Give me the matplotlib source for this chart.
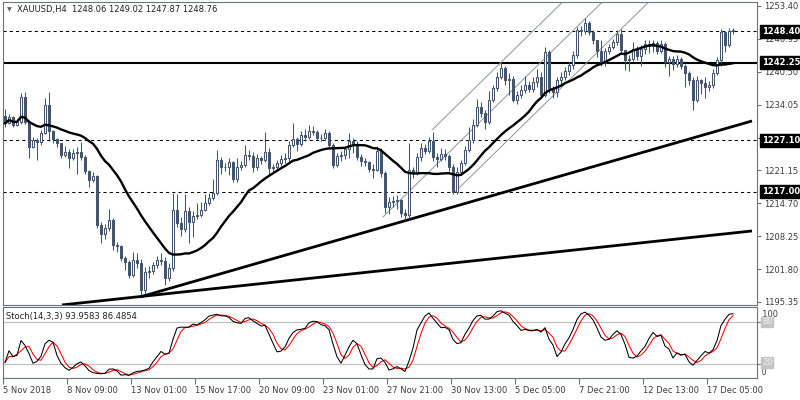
import numpy as np
import pandas as pd
import matplotlib
matplotlib.use("Agg")
import matplotlib.pyplot as plt
from matplotlib.transforms import blended_transform_factory

# XAUUSD H4 candles (open = previous close)
first_open = 1231.8

closes = [
    1230.4, 1231.6, 1230.1, 1230.6, 1235.6, 1230.7, 1225.8, 1227.1, 1226.7, 1228.5,
    1234.0, 1228.8, 1227.3, 1226.5, 1224.2, 1224.8, 1223.6, 1224.6, 1224.8, 1223.8,
    1221.0, 1219.3, 1220.0, 1210.5, 1208.6, 1209.8, 1211.4, 1206.5, 1206.3, 1204.0,
    1203.2, 1200.7, 1203.6, 1203.0, 1197.7, 1201.2, 1201.5, 1202.6, 1203.6, 1203.3,
    1200.0, 1202.0, 1213.4, 1210.8, 1209.6, 1213.2, 1211.0, 1212.2, 1212.5, 1213.4,
    1214.8, 1215.7, 1216.7, 1223.2, 1221.8, 1221.9, 1222.8, 1219.4, 1221.9, 1222.3,
    1224.2, 1224.0, 1221.8, 1223.6, 1223.2, 1224.8, 1221.6, 1221.8, 1222.6, 1223.4,
    1223.6, 1226.2, 1227.4, 1226.3, 1228.0, 1227.8, 1228.8, 1228.7, 1227.6, 1227.5,
    1228.4, 1226.2, 1222.3, 1223.9, 1224.2, 1225.3, 1226.9, 1226.4, 1223.8, 1223.0,
    1222.8, 1221.4, 1221.2, 1225.0, 1220.7, 1214.0, 1215.0, 1215.2, 1215.4, 1212.8,
    1212.4, 1221.2, 1220.6, 1223.8, 1225.5, 1225.0, 1227.0, 1223.8, 1223.4, 1224.3,
    1224.0, 1221.8, 1217.0, 1220.9, 1222.6, 1225.2, 1227.1, 1230.1, 1233.6, 1232.4,
    1230.7, 1235.0, 1237.3, 1239.5, 1241.2, 1238.9, 1239.1, 1235.0, 1236.0, 1237.0,
    1237.9, 1237.2, 1238.4, 1239.5, 1236.0, 1244.4, 1237.4, 1236.6, 1238.9, 1239.5,
    1240.6, 1241.8, 1243.8, 1248.6, 1248.4, 1250.0, 1248.3, 1246.7, 1244.6, 1242.2,
    1244.6, 1245.4, 1246.4, 1248.0, 1244.8, 1242.8, 1243.0, 1245.0, 1243.6, 1245.0,
    1246.0, 1245.6, 1246.2, 1244.6, 1246.0, 1242.4, 1243.0, 1242.0, 1243.0, 1241.6,
    1240.2, 1238.9, 1235.0, 1238.9, 1238.2, 1237.6, 1237.9, 1240.2, 1242.8, 1248.3,
    1245.8, 1248.4, 1248.76,
]

highs = [
    1233.2, 1232.3, 1231.9, 1231.2, 1236.4, 1236.6, 1231.0, 1227.8, 1227.6, 1229.0,
    1235.3, 1236.5, 1229.0, 1227.6, 1226.6, 1225.9, 1225.4, 1225.3, 1225.8, 1226.7,
    1224.1, 1221.3, 1220.8, 1220.3, 1211.0, 1210.6, 1213.6, 1211.8, 1207.2, 1206.6,
    1204.4, 1203.6, 1205.2, 1205.0, 1203.8, 1202.3, 1202.5, 1203.2, 1204.4, 1205.0,
    1204.2, 1203.0, 1216.7, 1216.5, 1212.0, 1216.5, 1214.0, 1213.2, 1214.8, 1215.0,
    1216.6, 1216.8, 1219.5, 1225.2, 1223.8, 1222.6, 1223.6, 1223.0, 1223.6, 1223.0,
    1226.2, 1225.2, 1224.8, 1224.3, 1224.0, 1228.7, 1225.6, 1222.5, 1223.2, 1224.2,
    1224.5, 1227.0, 1230.4, 1227.8, 1228.8, 1229.2, 1230.0, 1229.8, 1229.0, 1228.3,
    1229.2, 1228.8, 1226.6, 1224.6, 1225.0, 1226.0, 1228.5, 1227.6, 1227.0, 1224.4,
    1223.6, 1223.0, 1222.4, 1226.0, 1225.6, 1221.0, 1216.0, 1216.2, 1216.4, 1215.6,
    1213.6, 1226.5, 1221.8, 1224.6, 1226.5, 1226.4, 1227.8, 1228.7, 1224.5, 1225.6,
    1225.4, 1224.4, 1222.4, 1221.8, 1223.2, 1226.0, 1229.6, 1231.2, 1235.2, 1234.5,
    1233.0, 1236.8, 1238.0, 1240.4, 1242.4, 1241.6, 1240.2, 1239.6, 1236.8, 1238.0,
    1239.6, 1238.6, 1239.5, 1241.0, 1240.4, 1245.4, 1244.8, 1237.8, 1239.5, 1240.5,
    1241.4, 1242.4, 1244.6, 1249.2, 1249.4, 1251.0, 1250.4, 1248.6, 1246.4, 1246.8,
    1245.2, 1246.0, 1247.0, 1248.6, 1248.8, 1244.0, 1243.8, 1246.4, 1245.6, 1245.8,
    1246.8, 1246.8, 1246.8, 1246.6, 1246.8, 1246.4, 1243.6, 1243.6, 1243.8, 1243.4,
    1242.0, 1240.6, 1239.4, 1239.6, 1239.0, 1239.4, 1238.6, 1241.0, 1243.4, 1248.9,
    1247.0, 1249.0, 1249.02,
]

lows = [
    1229.6, 1230.2, 1229.6, 1229.8, 1230.2, 1230.2, 1223.5, 1225.5, 1223.2, 1226.2,
    1228.2, 1227.0, 1226.6, 1225.8, 1223.6, 1223.8, 1221.6, 1223.2, 1220.4, 1223.2,
    1220.4, 1217.9, 1218.8, 1209.8, 1206.9, 1207.8, 1209.3, 1205.6, 1205.2, 1203.3,
    1201.7, 1200.0, 1200.2, 1202.0, 1196.8, 1197.2, 1200.0, 1200.8, 1202.0, 1202.6,
    1198.6, 1199.5, 1201.5, 1210.0, 1208.2, 1209.0, 1207.0, 1208.0, 1211.6, 1212.0,
    1213.2, 1214.4, 1215.4, 1216.4, 1220.4, 1221.0, 1220.3, 1218.8, 1218.8, 1221.3,
    1221.9, 1223.2, 1220.8, 1221.2, 1222.4, 1222.8, 1220.0, 1220.8, 1221.0, 1221.6,
    1222.6, 1223.0, 1225.8, 1225.0, 1226.0, 1227.0, 1227.4, 1228.0, 1227.2, 1227.0,
    1227.2, 1225.8, 1221.6, 1221.8, 1223.0, 1223.4, 1223.6, 1224.6, 1223.2, 1222.0,
    1222.0, 1220.8, 1219.6, 1221.0, 1219.8, 1212.8, 1212.6, 1214.0, 1213.5, 1212.0,
    1211.4, 1211.6, 1219.6, 1220.2, 1223.0, 1224.4, 1224.6, 1223.0, 1221.8, 1223.0,
    1223.2, 1221.0, 1216.6, 1216.6, 1220.2, 1222.2, 1224.8, 1226.6, 1229.6, 1231.6,
    1229.2, 1230.2, 1234.6, 1236.8, 1239.0, 1238.0, 1236.0, 1234.5, 1234.2, 1235.4,
    1236.4, 1236.6, 1236.6, 1237.6, 1235.3, 1235.6, 1236.4, 1235.4, 1235.6, 1238.0,
    1238.8, 1239.8, 1241.0, 1243.2, 1247.6, 1248.0, 1247.8, 1246.0, 1243.4, 1241.6,
    1241.6, 1244.0, 1245.0, 1245.8, 1244.0, 1240.8, 1240.6, 1242.6, 1242.8, 1241.6,
    1244.0, 1244.2, 1244.4, 1244.0, 1244.2, 1241.4, 1239.6, 1240.8, 1241.4, 1241.0,
    1237.6, 1238.0, 1233.0, 1234.6, 1236.2, 1235.4, 1236.8, 1237.4, 1239.8, 1241.6,
    1244.4, 1245.4, 1247.87,
]

# horizontal levels
dashed_levels = [1248.40, 1227.10, 1217.00]
solid_level = 1242.25
box_levels = [1248.40, 1242.25, 1227.10, 1217.00]

# trend lines: (bar, price) anchors
trend_lines = [
    [(14.25, 1194.77), (186.75, 1209.28)],
    [(33.75, 1196.34), (186.75, 1230.85)],
]
# equidistant channel: start anchors and slope (price per bar)
channel_starts = [(94.5, 1212.03), (106.75, 1229.08), (112.5, 1216.93)]
channel_slope = 0.769

price_ticks = [1253.40, 1246.95, 1240.50, 1234.05, 1227.60,
               1221.15, 1214.70, 1208.25, 1201.80, 1195.35]
hidden_ticks = [1227.60]  # sits under the 1227.10 label box
date_bars = [0, 16, 32, 48, 64, 80, 96, 112, 128, 144, 160, 176]
date_labels = ["5 Nov 2018", "8 Nov 09:00", "13 Nov 01:00", "15 Nov 17:00",
               "20 Nov 09:00", "23 Nov 01:00", "27 Nov 21:00", "30 Nov 13:00",
               "5 Dec 05:00", "7 Dec 21:00", "12 Dec 13:00", "17 Dec 05:00"]

title_text = "XAUUSD,H4  1248.06 1249.02 1247.87 1248.76"
stoch_text = "Stoch(14,3,3) 93.9583 86.4854"

CANDLE = "#44546a"
SPINE = "#6b737b"
LABEL = "#3c3c3c"
FONT = "DejaVu Sans"
FS = 6.0

plt.rcParams["font.family"] = [FONT]

c = np.array(closes)
o = np.array([first_open] + closes[:-1])
h = np.maximum(np.array(highs), np.maximum(o, c))
l = np.minimum(np.array(lows), np.minimum(o, c))
n = len(c)
x = np.arange(n)

df = pd.DataFrame({"o": o, "h": h, "l": l, "c": c})
ma = df["c"].rolling(20, min_periods=1).mean()
ll = df["l"].rolling(14, min_periods=1).min()
hh = df["h"].rolling(14, min_periods=1).max()
k = 100 * (df["c"] - ll).rolling(3, min_periods=1).sum() / (hh - ll).rolling(3, min_periods=1).sum()
d = k.rolling(3, min_periods=1).mean()

fig = plt.figure(figsize=(8, 4), dpi=100)
fig.patch.set_facecolor("white")
ax = fig.add_axes([3 / 800, 1 - 305 / 400, 754 / 800, 303 / 400])
ax2 = fig.add_axes([3 / 800, 1 - 378 / 400, 754 / 800, 71 / 400])

xlim = (-0.5, 188)
for a in (ax, ax2):
    a.set_xlim(*xlim)
    for s in a.spines.values():
        s.set_color(SPINE)
        s.set_linewidth(0.8)
ax.set_ylim(1194.76, 1254.18)
ax2.set_ylim(0, 101.4)

# levels
for lv in dashed_levels:
    ax.axhline(lv, color="black", lw=0.75, ls=(0, (3, 3)), zorder=1)
ax.axhline(solid_level, color="black", lw=1.5, zorder=1)

# trend lines and channel
for (x0, y0), (x1, y1) in trend_lines:
    ax.plot([x0, x1], [y0, y1], color="black", lw=2.0, zorder=1, solid_capstyle="butt")
for xs, ys in channel_starts:
    ax.plot([xs, xs + 80], [ys, ys + 80 * channel_slope], color="#8d969f",
            lw=0.7, zorder=1)

# candles
up = c >= o
body_lo = np.minimum(o, c)
body_h = np.maximum(np.abs(c - o), 0.08)
ax.vlines(x, l, h, color=CANDLE, lw=0.75, zorder=2)
ax.bar(x[up], body_h[up], bottom=body_lo[up], width=0.6, facecolor="white",
       edgecolor=CANDLE, lw=0.75, zorder=3)
ax.bar(x[~up], body_h[~up], bottom=body_lo[~up], width=0.6, facecolor=CANDLE,
       edgecolor=CANDLE, lw=0.75, zorder=3)

ax.plot(x, ma, color="black", lw=1.7, zorder=4)

# price axis
ax.yaxis.tick_right()
ax.set_yticks(price_ticks)
ax.set_yticklabels(["" if p in hidden_ticks else f"{p:.2f}" for p in price_ticks])
ax.tick_params(axis="y", length=3, width=0.8, color=SPINE, labelsize=FS,
               labelcolor=LABEL, pad=2)
ax.set_xticks([])

trans = blended_transform_factory(ax.transAxes, ax.transData)
for lv in box_levels:
    ax.annotate(f"{lv:.2f}", xy=(1.0, lv), xycoords=trans, xytext=(3.6, 0),
                textcoords="offset points", ha="left", va="center",
                fontsize=FS, color="white", fontweight="bold", annotation_clip=False,
                bbox=dict(boxstyle="square,pad=0.25", fc="black", ec="black"))

ax.text(0.005, 0.975, "\u25bc", transform=ax.transAxes, fontsize=4.5,
        color="#606060", va="center", ha="left")
ax.text(0.019, 0.975, title_text, transform=ax.transAxes, fontsize=FS,
        color="#202020", va="center", ha="left")

# stochastic panel
for lv in (20, 80):
    ax2.axhline(lv, color="#c0c0c0", lw=0.9, zorder=1)
ax2.plot(x, k, color="black", lw=0.75, zorder=3)
ax2.plot(x, d, color="red", lw=0.75, zorder=2)
ax2.text(0.004, 0.87, stoch_text, transform=ax2.transAxes, fontsize=FS,
         color="#202020", va="center", ha="left")

ax2.yaxis.tick_right()
ax2.set_yticks([20, 80])
ax2.set_yticklabels([])
ax2.tick_params(axis="y", length=3, width=0.8, color=SPINE)
trans2 = blended_transform_factory(ax2.transAxes, ax2.transAxes)
ax2.text(1.0, 0.9, "  100", transform=trans2, fontsize=FS, color=LABEL,
         va="center", ha="left")
ax2.text(1.0, 0.08, "  0", transform=trans2, fontsize=5.5, color=LABEL,
         va="center", ha="left")
trans3 = blended_transform_factory(ax2.transAxes, ax2.transData)
for lv in (80, 20):
    ax2.annotate(str(lv), xy=(1.0, lv), xycoords=trans3, xytext=(3.6, 1 if lv == 20 else 0),
                 textcoords="offset points", ha="left", va="center",
                 fontsize=FS, color="#f4f4f4", annotation_clip=False,
                 bbox=dict(boxstyle="square,pad=0.1", fc="#c4c4c4", ec="#c4c4c4"))

ax2.set_xticks([b - 0.5 for b in date_bars])
ax2.set_xticklabels(date_labels)
ax2.tick_params(axis="x", length=4, width=0.8, color=SPINE, labelsize=FS,
                labelcolor=LABEL, pad=2)
for lab in ax2.get_xticklabels():
    lab.set_ha("left")

fig.savefig("out.png", dpi=100, facecolor="white")
